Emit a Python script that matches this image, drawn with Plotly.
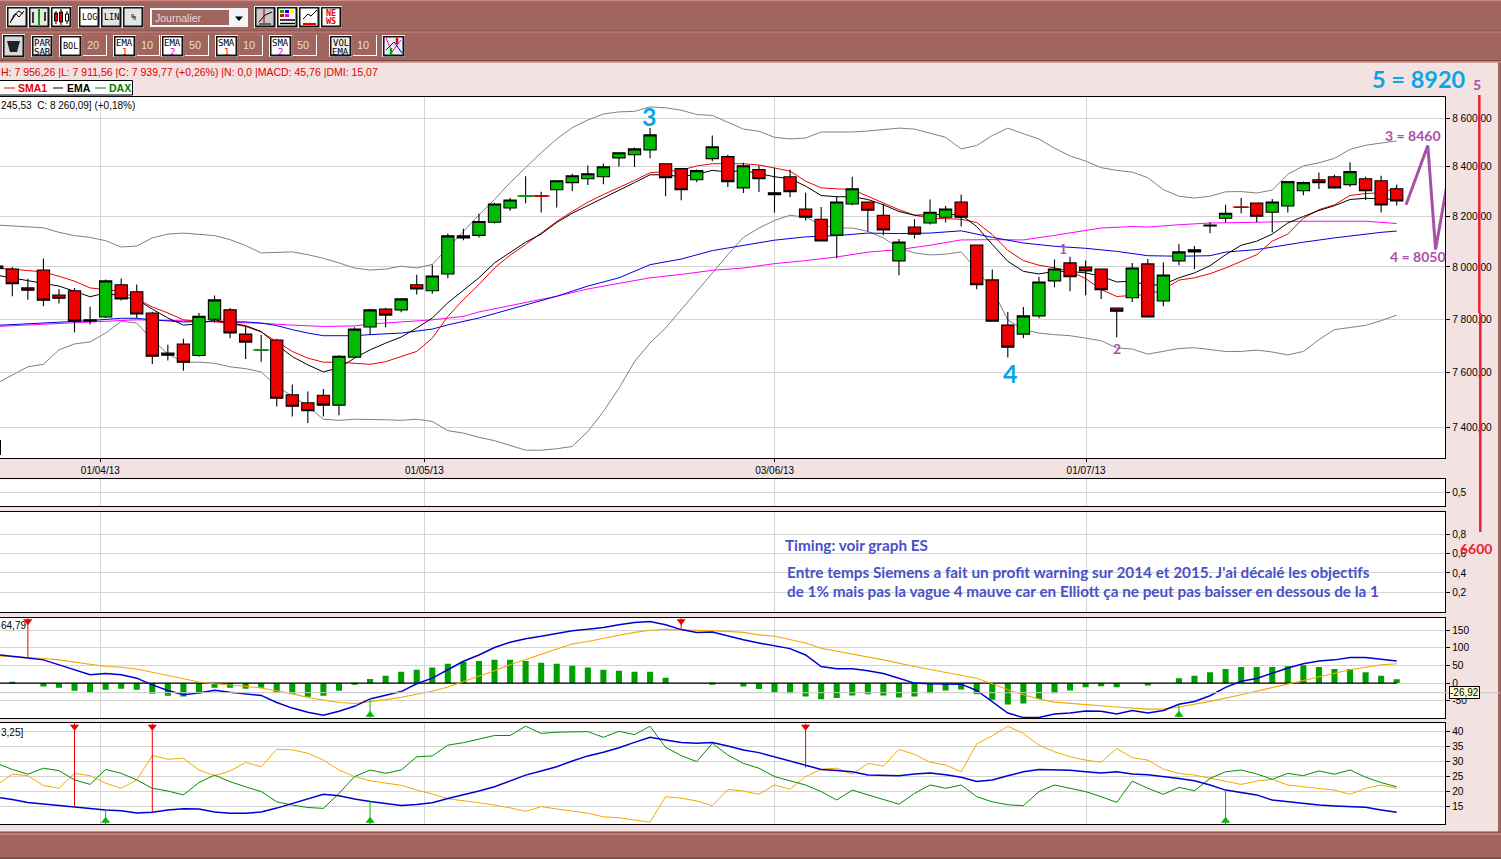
import numpy as np
import plotly.graph_objects as go
from plotly.subplots import make_subplots

W, H = 1501, 859

# candle values, index -1 is the one cut off at the left edge
candle_idx = list(range(-1, 90))
opens = [7994, 7992, 7919, 7988, 7892, 7908, 7797, 7808, 7931, 7904, 7823, 7672, 7706, 7663, 7799, 7835, 7743, 7683,
         7721, 7518, 7489, 7516, 7480, 7657, 7770, 7838, 7835, 7931, 7908, 7973, 8122, 8124, 8176, 8233, 8280, 8282,
         8306, 8335, 8351, 8359, 8436, 8449, 8469, 8412, 8392, 8347, 8433, 8441, 8314, 8388, 8294, 8359, 8229, 8188,
         8125, 8249, 8257, 8204, 8024, 8157, 8173, 8196, 8257, 8086, 7950, 7777, 7743, 7812, 7946, 8016, 8000, 7992,
         7842, 7881, 8012, 7869, 8024, 8059, 8165, 8192, 8237, 8253, 8216, 8241, 8302, 8347, 8359, 8327, 8351, 8343,
         8310]
closes = [8004, 7935, 7910, 7872, 7879, 7792, 7792, 7946, 7877, 7819, 7660, 7664, 7638, 7810, 7873, 7747, 7713, 7684,
          7505, 7476, 7460, 7480, 7660, 7762, 7835, 7815, 7877, 7915, 7965, 8122, 8114, 8179, 8249, 8265, 8282, 8280,
          8343, 8363, 8371, 8400, 8457, 8473, 8531, 8355, 8306, 8384, 8482, 8339, 8404, 8351, 8286, 8298, 8196, 8102,
          8257, 8310, 8224, 8145, 8098, 8129, 8216, 8229, 8196, 7931, 7792, 7694, 7812, 7942, 7992, 7962, 7985, 7912,
          7830, 7996, 7808, 7969, 8059, 8067, 8161, 8212, 8235, 8200, 8257, 8339, 8335, 8335, 8314, 8380, 8302, 8245,
          8261]
highs = [8008, 8000, 7954, 8033, 7915, 7919, 7847, 7951, 7955, 7932, 7828, 7703, 7726, 7823, 7890, 7842, 7772, 7741,
         7726, 7556, 7530, 7539, 7665, 7769, 7838, 7843, 7878, 7970, 8009, 8131, 8150, 8210, 8254, 8273, 8361, 8298,
         8344, 8371, 8405, 8413, 8457, 8479, 8560, 8412, 8392, 8388, 8528, 8449, 8416, 8405, 8396, 8388, 8294, 8237,
         8280, 8359, 8260, 8249, 8110, 8188, 8267, 8241, 8287, 8086, 7990, 7827, 7846, 7962, 8029, 8040, 8025, 7992,
         7842, 8016, 8031, 8017, 8090, 8082, 8176, 8246, 8273, 8253, 8269, 8339, 8340, 8376, 8367, 8418, 8359, 8363,
         8327]
lows = [7985, 7887, 7874, 7849, 7859, 7750, 7779, 7804, 7871, 7804, 7631, 7644, 7606, 7658, 7787, 7727, 7650, 7640,
        7475, 7439, 7415, 7439, 7443, 7653, 7740, 7769, 7826, 7894, 7897, 7956, 8105, 8116, 8171, 8222, 8252, 8215,
        8235, 8301, 8325, 8329, 8401, 8399, 8435, 8280, 8264, 8337, 8422, 8317, 8293, 8297, 8215, 8276, 8183, 8102,
        8034, 8244, 8139, 8124, 7968, 8112, 8167, 8175, 8159, 7914, 7791, 7655, 7727, 7803, 7922, 7906, 7891, 7876,
        7731, 7865, 7808, 7849, 8007, 7991, 8132, 8176, 8211, 8176, 8135, 8215, 8284, 8309, 8310, 8318, 8265, 8215,
        8243]
doji_idx = [16, 33, 34, 79]
doji_price = [7684, 8281, 8281, 8236]
doji_colors = ['#00BB00', '#00BB00', '#EE0000', '#EE0000']

bb_upper = [8165, 8161, 8158, 8154, 8136, 8123, 8116, 8103, 8078, 8082, 8114, 8129, 8133, 8128, 8123, 8107, 8084, 8055,
            8056, 8059, 8048, 8034, 8016, 7996, 7988, 7992, 8003, 7996, 8010, 8075, 8140, 8205, 8267, 8335, 8396, 8457,
            8514, 8561, 8593, 8618, 8627, 8629, 8648, 8644, 8634, 8616, 8612, 8584, 8555, 8546, 8521, 8514, 8518, 8543,
            8543, 8543, 8547, 8554, 8559, 8555, 8539, 8521, 8473, 8487, 8528, 8559, 8536, 8514, 8476, 8444, 8423, 8396,
            8385, 8378, 8355, 8307, 8280, 8273, 8280, 8298, 8299, 8293, 8305, 8369, 8403, 8416, 8434, 8471, 8488, 8498,
            8506]
bb_lower = [7560, 7592, 7621, 7630, 7684, 7706, 7714, 7747, 7791, 7785, 7722, 7669, 7638, 7638, 7634, 7621, 7614, 7602,
            7548, 7514, 7475, 7429, 7425, 7429, 7429, 7427, 7425, 7429, 7421, 7388, 7379, 7364, 7352, 7336, 7318, 7318,
            7323, 7331, 7385, 7457, 7542, 7640, 7710, 7766, 7836, 7906, 7979, 8048, 8116, 8153, 8183, 8204, 8196, 8166,
            8153, 8153, 8140, 8114, 8075, 8055, 8047, 8050, 8059, 7990, 7913, 7797, 7760, 7747, 7741, 7737, 7728, 7718,
            7691, 7687, 7668, 7678, 7689, 7692, 7684, 7678, 7678, 7683, 7676, 7665, 7678, 7722, 7760, 7767, 7776, 7794,
            7815]
sma1 = [7994, 7992, 7986, 7981, 7964, 7945, 7919, 7913, 7906, 7877, 7846, 7823, 7797, 7791, 7791, 7782, 7772, 7751,
        7716, 7678, 7653, 7638, 7638, 7634, 7630, 7640, 7659, 7678, 7728, 7810, 7874, 7932, 7996, 8046, 8088, 8133,
        8179, 8219, 8256, 8287, 8314, 8344, 8375, 8382, 8386, 8403, 8412, 8412, 8412, 8407, 8396, 8382, 8341, 8314,
        8310, 8307, 8280, 8253, 8226, 8204, 8192, 8190, 8188, 8175, 8127, 8065, 8025, 8007, 7997, 7983, 7955, 7913,
        7886, 7890, 7894, 7913, 7949, 7958, 7974, 7996, 8022, 8048, 8101, 8129, 8192, 8226, 8246, 8283, 8291, 8294,
        8314]
ema1 = [7968, 7958, 7947, 7936, 7926, 7906, 7885, 7900, 7887, 7874, 7838, 7804, 7777, 7782, 7797, 7787, 7775, 7753,
        7703, 7659, 7628, 7602, 7617, 7653, 7684, 7709, 7732, 7766, 7804, 7862, 7910, 7958, 8016, 8058, 8097, 8129,
        8175, 8212, 8242, 8273, 8305, 8335, 8367, 8367, 8359, 8369, 8385, 8378, 8385, 8373, 8359, 8351, 8321, 8283,
        8278, 8278, 8267, 8246, 8219, 8204, 8205, 8208, 8205, 8159, 8088, 8022, 7983, 7973, 7983, 7983, 7977, 7964,
        7942, 7945, 7929, 7932, 7958, 7977, 8005, 8048, 8085, 8101, 8129, 8173, 8199, 8223, 8242, 8267, 8272, 8269,
        8267]
ema2_idx = [-1, 1, 3, 5, 7, 8, 9, 11, 13, 15, 16, 17, 18, 19, 20, 22, 23, 25, 27, 28, 30, 32, 35, 37, 39, 41, 43, 45,
            47, 49, 51, 53, 55, 57, 59, 61, 63, 65, 67, 69, 71, 73, 75, 77, 78, 80, 83, 85, 88, 89]
ema2 = [7776, 7782, 7789, 7794, 7803, 7803, 7797, 7789, 7791, 7789, 7785, 7775, 7760, 7747, 7737, 7737, 7741, 7747,
        7762, 7778, 7804, 7836, 7887, 7926, 7958, 8009, 8031, 8064, 8085, 8105, 8118, 8123, 8133, 8131, 8133, 8142,
        8116, 8094, 8081, 8073, 8061, 8044, 8042, 8044, 8058, 8068, 8097, 8114, 8136, 8141]
sma2_idx = [-1, 3, 6, 8, 10, 12, 15, 16, 18, 20, 22, 23, 25, 27, 29, 30, 32, 35, 37, 39, 41, 43, 45, 47, 49, 51, 53,
            55, 57, 59, 61, 63, 65, 67, 69, 70, 72, 73, 75, 77, 80, 83, 87, 88, 89]
sma2 = [7772, 7782, 7792, 7797, 7795, 7792, 7787, 7784, 7777, 7772, 7774, 7781, 7789, 7797, 7810, 7827, 7851, 7887,
        7915, 7935, 7958, 7971, 7987, 7996, 8013, 8025, 8039, 8058, 8068, 8085, 8106, 8107, 8106, 8124, 8142, 8153,
        8159, 8157, 8166, 8173, 8176, 8180, 8180, 8175, 8171]

# elliott forecast drawn past the last candle
wave_idx = [89.6, 91.0, 91.5, 93.3]
wave_val = [8246, 8487, 8068, 8715]

date_pos = [5.66, 26.49, 49.01, 69.03]
date_labels = ['01/04/13', '01/05/13', '03/06/13', '01/07/13']
price_ticks = [8600, 8400, 8200, 8000, 7800, 7600, 7400]
price_labels = ['8 600,00', '8 400,00', '8 200,00', '8 000,00', '7 800,00', '7 600,00', '7 400,00']

macd_hist = [0, 4, 0, -10, -13, -22, -27, -19, -16, -19, -30, -36, -38, -27, -13, -13, -16, -13, -27, -32, -39, -36,
             -22, -5, 12, 21, 32, 38, 44, 55, 61, 63, 66, 66, 63, 58, 55, 49, 44, 38, 35, 32, 32, 15, 0, 0, -5, 0, -10,
             -17, -27, -29, -38, -46, -42, -35, -32, -35, -41, -38, -29, -21, -18, -32, -47, -61, -58, -45, -29, -21,
             -12, -9, -12, 0, -7, 0, 14, 21, 31, 40, 46, 46, 46, 48, 51, 46, 40, 40, 31, 21, 11]
macd_line = [81, 77, 71, 66, 52, 38, 24, 27, 24, 14, -5, -21, -33, -28, -20, -26, -30, -35, -55, -71, -83, -91, -80,
             -66, -45, -35, -24, -2, 14, 38, 62, 80, 101, 116, 126, 133, 142, 149, 153, 158, 166, 172, 175, 166, 152,
             144, 145, 133, 123, 114, 106, 98, 80, 47, 41, 41, 35, 27, 14, 0, -2, -2, -3, -21, -52, -85, -98, -98, -88,
             -85, -79, -80, -88, -78, -85, -78, -60, -52, -36, -12, 5, 13, 28, 43, 55, 63, 66, 73, 73, 68, 63]
macd_sig_idx = list(range(-1, 48)) + [48, 49, 50, 51, 52, 54, 56, 58, 61, 62, 63, 64, 65, 66, 67, 69, 71, 73, 74, 75,
                                      77, 79, 82, 84, 86, 88, 89]
macd_sig = [78, 76, 73, 70, 66, 59, 52, 47, 45, 40, 31, 22, 12, 3, -2, -5, -9, -14, -21, -30, -41, -49, -55, -58, -53,
            -47, -40, -31, -23, -11, 4, 19, 35, 52, 68, 82, 97, 111, 118, 128, 136, 144, 150, 153, 152, 150, 150, 147,
            144, 137, 133, 123, 114, 99, 83, 66, 47, 21, 14, -2, -19, -33, -45, -54, -62, -68, -74, -74, -68, -52, -33,
            -2, 19, 38, 52, 55]
macd_sell_idx = [1, 43]
macd_sell_val = [72, 151]
macd_buy_idx = [23, 75]
macd_buy_val = [-42, -62]

adx = [18.0, 17.3, 16.3, 15.8, 15.3, 14.7, 14.1, 13.8, 13.5, 12.8, 13.0, 13.8, 14.2, 14.1, 13.1, 12.7, 12.7, 13.1, 14.4,
       16.0, 17.6, 19.0, 18.5, 17.4, 16.6, 16.0, 15.3, 15.6, 16.2, 17.6, 18.8, 20.1, 21.5, 23.4, 25.4, 26.8, 28.2, 30.1,
       31.8, 33.0, 34.5, 36.3, 38.0, 37.1, 36.3, 36.0, 36.3, 35.1, 33.8,
       32.9, 31.5, 30.2, 28.8, 27.3, 26.9, 26.5, 25.4, 25.3, 25.2, 25.8, 26.1, 25.5, 24.7, 23.3, 23.8, 25.2, 26.5, 27.3,
       27.2, 27.0, 26.5, 26.1, 26.5, 25.8, 25.5, 25.0, 24.3, 23.5, 22.1, 20.4, 19.5, 18.8, 17.1, 16.5, 16.0, 15.4, 15.1,
       14.9, 14.7, 13.8, 13.0]
di_plus = [29.3, 27.3, 25.7, 27.7, 26.9, 23.8, 22.3, 27.3, 26.0, 23.8, 21.0, 20.1, 18.8, 22.9, 25.4, 23.2, 21.5, 19.9,
           16.5, 15.4, 14.6, 14.3, 19.3, 24.9, 27.1, 26.0, 27.1, 31.5, 31.8, 35.4, 36.2, 37.4, 38.6, 38.6, 41.7, 39.3,
           39.7, 39.8, 39.9, 38.0, 40.0, 38.9, 41.7, 34.7, 31.9, 29.9, 36.0, 32.1, 29.3,
           27.7, 24.9, 23.5, 22.1, 19.9, 17.1, 20.4, 18.8, 17.3, 15.7, 19.3, 22.1, 21.0, 22.1, 18.2, 16.5, 15.5, 15.2,
           19.9, 22.1, 21.0, 19.9, 18.2, 16.3, 23.4, 21.0, 19.0, 21.3, 20.2, 24.3, 26.5, 27.1, 25.8, 24.0, 26.0, 25.2,
           26.8, 25.7, 27.1, 24.7, 22.9, 21.5]
di_minus = [22.1, 25.7, 25.2, 21.9, 21.0, 26.0, 25.2, 22.7, 21.0, 23.8, 31.9, 30.7, 31.0, 27.1, 25.2, 26.8, 29.6, 28.2,
            34.0, 33.8, 32.7, 30.4, 27.1, 24.9, 23.5, 22.7, 22.0, 20.4, 19.1, 17.5, 16.9, 16.2, 15.4, 14.5, 13.3, 14.9,
            14.1, 13.3, 12.7, 11.5, 11.2, 10.4, 9.7, 18.2, 17.7, 16.8, 15.2, 20.6, 20.1,
            19.0, 22.1, 20.7, 24.9, 27.4, 27.7, 25.7, 29.3, 28.4, 34.0, 32.3, 29.7, 28.8, 26.5, 35.8, 38.5, 41.7, 39.3,
            35.4, 33.2, 31.5, 30.4, 29.7, 34.3, 31.2, 30.4, 27.4, 26.0, 25.4, 24.3, 23.2, 22.3, 23.4, 24.0, 22.1, 21.5,
            20.8, 20.4, 19.0, 21.0, 22.1, 21.0]
dmi_sell_idx = [4, 9, 51]
dmi_sell_val = [14.8, 13, 27.9]
dmi_buy_idx = [6, 23, 78]
dmi_buy_val = [14, 17, 20.4]

for series in (opens, closes, highs, lows, bb_upper, bb_lower, sma1, ema1, macd_hist, macd_line, adx, di_plus, di_minus):
    assert len(series) == len(candle_idx), len(series)
assert len(ema2) == len(ema2_idx) and len(sma2) == len(sma2_idx) and len(macd_sig) == len(macd_sig_idx)

# colours
BROWN = '#A0655E'
PANEL_BG = '#F2E2E2'
GRID = '#D4D4D4'
RED = '#EE0000'
GREEN = '#00BB00'
PURPLE = '#A850A8'
SKY = '#0AA5E8'
NOTE = '#4A50C8'
ORANGE = '#F5A800'
SANS = 'Liberation Sans'
MONO = 'DejaVu Sans Mono'
HAND = 'Lato'

# pixel layout of the panels (top, bottom)
panels = [(97.3, 458), (479.3, 506.3), (511.7, 612.3), (617.7, 718.3), (723.3, 824.3)]
RIGHT = 1445
K0, STEP = 12.3, 15.555
x_range = [(0 - K0) / STEP, (RIGHT - K0) / STEP]


def px(x):
    return x / W


def py(y):
    return 1 - y / H


shapes = []
notes = []


def rect(x0, y0, x1, y1, fill, line=None, width=1):
    shapes.append(dict(type='rect', xref='paper', yref='paper', x0=px(x0), x1=px(x1), y0=py(y0), y1=py(y1),
                       fillcolor=fill, line=dict(color=line or fill, width=width if line else 0)))


def seg(x0, y0, x1, y1, color='black', width=1):
    shapes.append(dict(type='line', xref='paper', yref='paper', x0=px(x0), x1=px(x1), y0=py(y0), y1=py(y1),
                       line=dict(color=color, width=width)))


def label(x, y, text, color='black', size=11, family=SANS, anchor='left', bold=False, **kw):
    if bold:
        text = '<b>%s</b>' % text
    notes.append(dict(xref='paper', yref='paper', x=px(x), y=py(y), text=text, showarrow=False, xanchor=anchor,
                      yanchor='middle', borderpad=0, font=dict(color=color, size=size, family=family), **kw))


def button(x0, x1, y0, y1, face='#FFFFFF'):
    rect(x0 - 1, y0 - 1, x1 + 1, y1 + 1, '#F4F4F4')
    rect(x0, y0, x1 + 0.5, y1 + 0.5, '#111111')
    rect(x0 + 1.5, y0 + 1.5, x1 - 1.5, y1 - 1.5, face)


def value_box(x0, x1, y0, y1, text):
    rect(x0, y0, x1, y1, '#FFFFFF')
    rect(x0, y0, x1 - 1, y1 - 1, '#808080')
    rect(x0 + 1, y0 + 1, x1 - 1, y1 - 1, BROWN)
    label(x0 + 3, (y0 + y1) / 2, text, '#E8D8D8', 11, SANS)


def two_line(x0, x1, y0, y1, top, bottom, bottom_color='black', face='#FFFFFF'):
    button(x0, x1, y0, y1, face)
    cx = (x0 + x1) / 2
    label(cx, y0 + 7, top, 'black', 9, MONO, 'center')
    label(cx, y0 + 16, bottom, bottom_color, 9, MONO, 'center')


# brown window frame
rect(0, 0, W, 62, BROWN)
rect(0, 832, W, H, BROWN)
rect(1498, 0, W, H, BROWN)
seg(0, 0.5, W, 0.5, '#D08880', 1.5)
seg(0, 31, W, 31, '#7A4A44', 1)
seg(0, 32, W, 32, '#D08880', 1)
seg(0, 60.5, W, 60.5, '#7A4A44', 1)
seg(0, 62, W, 62, '#D08880', 1.5)
seg(0, 832, W, 832, '#7A4A44', 1)
seg(0, 834, W, 834, '#D08880', 1.5)
seg(0, 858, W, 858, '#7A4A44', 1.5)

# toolbar, first row
button(7, 27, 7, 27, '#F0F0F0')
seg(10, 23, 14, 15)
seg(14, 15, 19, 11)
seg(19, 11, 23, 14)
seg(11, 21, 16, 14)
seg(16, 14, 19, 17)
seg(19, 17, 24, 11)
button(29, 49, 7, 27, '#E8E8E8')
seg(33, 12, 33, 23, 'black', 1.5)
seg(39, 9, 39, 25, '#00A000', 2)
seg(45, 12, 45, 21, 'black', 1.5)
button(51, 71, 7, 27)
seg(56, 11, 56, 24, 'black', 1)
rect(54.5, 13, 57.5, 21, '#EE0000', 'black')
seg(61, 9, 61, 25, 'black', 1)
rect(59.5, 12, 62.5, 22, '#EE0000', 'black')
seg(67, 11, 67, 24, 'black', 1)
rect(65.5, 14, 68.5, 21, 'white', 'black')
for x0, x1, text, face in [(79, 99, 'LOG', '#FFFFFF'), (101, 121, 'LIN', '#E4E4E4'), (123, 143, '%', '#E4E4E4')]:
    button(x0, x1, 7, 27, face)
    label((x0 + x1) / 2, 17.5, text, 'black', 8.5, MONO, 'center')
rect(150, 8, 248, 27, '#F4F4F4')
rect(152, 10, 229, 25, BROWN)
label(154, 18, 'Journalier', '#E8D8D8', 10.5, SANS)
shapes.append(dict(type='path', xref='paper', yref='paper', fillcolor='black', line=dict(width=0),
                   path='M %f %f L %f %f L %f %f Z' % (px(235), py(16.5), px(243), py(16.5), px(239), py(21))))
for x0 in (255, 277, 299, 321):
    button(x0, x0 + 20, 7, 27, '#C8C8C8' if x0 == 255 else '#FFFFFF')
seg(264, 9, 264, 25, '#CC0000', 1.2)
seg(259, 22, 265, 15)
seg(265, 15, 272, 12)
seg(259, 24, 271, 24, '#666666', 2)
rect(280, 10, 284, 13, '#00AA00')
rect(285, 10, 289, 13, '#0000DD')
rect(290, 10, 294, 13, '#FFFF00')
rect(285, 14, 289, 17, '#EE00EE')
rect(280, 14, 284, 17, '#EE0000')
seg(280, 20, 295, 20, 'black', 1.5)
seg(280, 23.5, 295, 23.5, 'black', 1.5)
seg(303, 19, 308, 14)
seg(308, 14, 311, 16)
seg(311, 16, 317, 10)
seg(303, 24, 316, 24, '#EE0000', 2)
label(331, 13, 'NE', '#EE0000', 8.5, MONO, 'center', bold=True)
label(331, 21, 'WS', '#EE0000', 8.5, MONO, 'center', bold=True)

# toolbar, second row
button(3, 24, 35, 57, '#D8D8D8')
shapes.append(dict(type='path', xref='paper', yref='paper', fillcolor='#222222', line=dict(width=0),
                   path='M %f %f L %f %f L %f %f L %f %f Z' % (px(7), py(41), px(20), py(41), px(17), py(52), px(10), py(52))))
two_line(32, 52, 36, 56, 'PAR', 'SAR', face='#EFEFEF')
button(60, 81, 36, 56)
label(70.5, 46.5, 'BOL', 'black', 8.5, MONO, 'center')
value_box(83, 107, 35, 56, '20')
two_line(114, 135, 36, 56, 'EMA', '1', '#EE0000')
value_box(137, 160, 35, 56, '10')
two_line(162, 183, 36, 56, 'EMA', '2', '#C000C0')
value_box(185, 209, 35, 56, '50')
two_line(216, 237, 36, 56, 'SMA', '1', '#EE0000')
value_box(239, 263, 35, 56, '10')
two_line(270, 291, 36, 56, 'SMA', '2', '#C000C0')
value_box(293, 317, 35, 56, '50')
two_line(330, 351, 36, 56, 'VOL', 'EMA', face='#EFEFEF')
value_box(353, 377, 35, 56, '10')
button(383, 404, 36, 56, '#F0F0F0')
seg(386, 38, 392, 52, '#EE00EE')
seg(392, 52, 401, 40, '#EE00EE')
seg(386, 50, 394, 42, '#0000DD')
seg(394, 42, 402, 53, '#0000DD')
seg(397, 38, 397, 44, '#EE0000', 2.5)
seg(391, 55, 391, 48, '#00AA00', 2.5)

# header texts
label(0, 72.5, 'H: 7 956,26 |L: 7 911,56 |C: 7 939,77 (+0,26%) |N: 0,0 |MACD: 45,76 |DMI: 15,07', '#E00000', 10.5)
rect(-2, 80.5, 132.5, 95, 'white', 'black', 1)
seg(4, 88, 15, 88, '#EE0000')
label(17, 88, 'SMA1', '#EE0000', 10.5, bold=True)
seg(53, 88, 63, 88, 'black')
label(66, 88, 'EMA', 'black', 10.5, bold=True)
seg(95, 88, 106, 88, '#008000')
label(108, 88, 'DAX', '#008000', 10.5, bold=True)
label(0, 105.5, '245,53  C: 8 260,09] (+0,18%)', 'black', 10)
label(0, 625, '64,79', 'black', 10)
label(0, 732, '3,25]', 'black', 10)

# hand written notes on top of the screenshot
label(1371, 79, '5 = 8920', SKY, 23.5, HAND, bold=True)
label(649, 116, '3', SKY, 25, HAND, 'center', bold=True)
label(1011, 373, '4', SKY, 25, HAND, 'center', bold=True)
label(1384, 136, '3 = 8460', PURPLE, 14, HAND, bold=True)
label(1389, 256, '4 = 8050', PURPLE, 14, HAND, bold=True)
label(1477, 84, '5', PURPLE, 14, HAND, 'center', bold=True)
label(1063, 248, '1', PURPLE, 14, HAND, 'center', bold=True)
label(1117, 348, '2', PURPLE, 14, HAND, 'center', bold=True)
label(1459, 548, '6600', '#EE2030', 14, HAND, bold=True)
label(784, 545, 'Timing: voir graph ES', NOTE, 15.3, HAND, bold=True)
label(786, 572, "Entre temps Siemens a fait un profit warning sur 2014 et 2015. J'ai décalé les objectifs", NOTE, 15.3, HAND,
      bold=True)
label(786, 591, 'de 1% mais pas la vague 4 mauve car en Elliott ça ne peut pas baisser en dessous de la 1', NOTE, 15.3, HAND,
      bold=True)

# red hand drawn line and crosshair
seg(1479.3, 95, 1479.3, 313, '#EE2030', 2.5)
seg(1480.3, 313, 1480.3, 532, '#EE2030', 2.5)
seg(0, 692.7, 1500, 692.7, '#C8C8C8', 1)
rect(0, 440, 1, 455, 'black')
label(1464.5, 692.5, '-26,92', 'black', 10, SANS, 'center', bgcolor='#FFFFD0', bordercolor='black', borderwidth=1)

fig = make_subplots(rows=5, cols=1)

y_top = np.log10(8600) + 21.0 / 4734
y_bot = np.log10(8600) - 339.7 / 4734

for values, idx, color in [(bb_upper, candle_idx, '#808080'), (bb_lower, candle_idx, '#808080'),
                           (sma2, sma2_idx, '#FF00FF'), (ema2, ema2_idx, '#0000E0'),
                           (sma1, candle_idx, '#EE0000'), (ema1, candle_idx, 'black')]:
    fig.add_trace(go.Scatter(x=idx, y=values, mode='lines', line=dict(color=color, width=1),
                             showlegend=False), row=1, col=1)
fig.add_trace(go.Scatter(x=wave_idx, y=wave_val, mode='lines', showlegend=False, cliponaxis=False,
                         line=dict(color=PURPLE, width=3)), row=1, col=1)

# candles sit on an overlay axis so they cover the indicator lines
fig.add_trace(go.Candlestick(x=candle_idx, open=opens, high=highs, low=lows, close=closes,
                             xaxis='x6', yaxis='y6', whiskerwidth=0, showlegend=False,
                             increasing=dict(fillcolor=GREEN, line=dict(color='black', width=1.1)),
                             decreasing=dict(fillcolor=RED, line=dict(color='black', width=1.1))))
fig.add_trace(go.Scatter(x=doji_idx, y=doji_price, mode='markers', xaxis='x6', yaxis='y6', showlegend=False,
                         marker=dict(symbol='line-ew', size=12, line=dict(color=doji_colors, width=1.3))))

# the two empty indicator panels still need a trace to show their axes
for row in (2, 3):
    fig.add_trace(go.Scatter(x=[None], y=[None], mode='lines', showlegend=False), row=row, col=1)

# macd panel
fig.add_trace(go.Bar(x=candle_idx, y=macd_hist, width=0.39, marker=dict(color='#00A000', line=dict(width=0)),
                     showlegend=False), row=4, col=1)
fig.add_trace(go.Scatter(x=[candle_idx[0], candle_idx[-1]], y=[0, 0], mode='lines',
                         line=dict(color='black', width=1.2), showlegend=False), row=4, col=1)
fig.add_trace(go.Scatter(x=macd_sig_idx, y=macd_sig, mode='lines', line=dict(color=ORANGE, width=1.1),
                         showlegend=False), row=4, col=1)
fig.add_trace(go.Scatter(x=candle_idx, y=macd_line, mode='lines', line=dict(color='#0000D0', width=1.5),
                         showlegend=False), row=4, col=1)

# dmi panel
fig.add_trace(go.Scatter(x=candle_idx, y=di_minus, mode='lines', line=dict(color=ORANGE, width=1),
                         showlegend=False), row=5, col=1)
fig.add_trace(go.Scatter(x=candle_idx, y=di_plus, mode='lines', line=dict(color='#009000', width=1),
                         showlegend=False), row=5, col=1)
fig.add_trace(go.Scatter(x=candle_idx, y=adx, mode='lines', line=dict(color='#0000D0', width=1.5),
                         showlegend=False), row=5, col=1)


def add_signals(idx, values, edge, tip, symbol, color, row):
    for k, v in zip(idx, values):
        fig.add_trace(go.Scatter(x=[k, k], y=[edge, v], mode='lines', line=dict(color=color, width=1),
                                 showlegend=False), row=row, col=1)
    fig.add_trace(go.Scatter(x=idx, y=[tip] * len(idx), mode='markers', showlegend=False,
                             marker=dict(symbol=symbol, size=8, color=color)), row=row, col=1)


macd_range = [-100, 185.8]
dmi_range = [9, 42.67]
add_signals(macd_sell_idx, macd_sell_val, macd_range[1], 176, 'triangle-down', '#EE0000', 4)
add_signals(macd_buy_idx, macd_buy_val, macd_range[0], -90, 'triangle-up', '#00BB00', 4)
add_signals(dmi_sell_idx, dmi_sell_val, dmi_range[1], 41.5, 'triangle-down', '#EE0000', 5)
add_signals(dmi_buy_idx, dmi_buy_val, dmi_range[0], 10.2, 'triangle-up', '#00BB00', 5)

y_setup = [
    dict(type='log', range=[y_bot, y_top], tickvals=price_ticks, ticktext=price_labels),
    dict(range=[0, 1], tickvals=[0.5], ticktext=['0,5']),
    dict(range=[-0.007, 1.034], tickvals=[0.8, 0.6, 0.4, 0.2], ticktext=['0,8', '0,6', '0,4', '0,2']),
    dict(range=macd_range, tickvals=[150, 100, 50, 0, -50], ticktext=['150', '100', '50', '0', '-50']),
    dict(range=dmi_range, tickvals=[40, 35, 30, 25, 20, 15], ticktext=['40', '35', '30', '25', '20', '15']),
]
for row, ((top, bottom), setup) in enumerate(zip(panels, y_setup), start=1):
    domain = [1 - bottom / H, 1 - top / H]
    fig.update_yaxes(domain=domain, side='right', showgrid=True, gridcolor=GRID, gridwidth=1, zeroline=False,
                     showline=True, linecolor='black', linewidth=1.2, ticks='outside', ticklen=4, tickcolor='black',
                     tickfont=dict(family=SANS, size=10.2, color='black'), row=row, col=1, **setup)
    fig.update_xaxes(domain=[0, RIGHT / W], range=x_range, tickmode='array', tickvals=date_pos,
                     ticktext=date_labels if row == 1 else [''] * 4, showgrid=True, gridcolor=GRID, gridwidth=1,
                     zeroline=False, showline=True, mirror=True, linecolor='black', linewidth=1.2,
                     ticks='outside' if row == 1 else '', ticklen=3, tickcolor='black',
                     tickfont=dict(family=SANS, size=10, color='black'), row=row, col=1)

main_domain = [1 - panels[0][1] / H, 1 - panels[0][0] / H]
fig.update_layout(
    width=W, height=H, margin=dict(l=0, r=0, t=0, b=0, pad=0),
    paper_bgcolor=PANEL_BG, plot_bgcolor='white', boxgap=0.17, boxgroupgap=0.05, bargap=0.6, showlegend=False,
    xaxis6=dict(overlaying='x', anchor='y6', domain=[0, RIGHT / W], range=x_range, visible=False,
                rangeslider=dict(visible=False)),
    yaxis6=dict(overlaying='y', anchor='x6', domain=main_domain, type='log', range=[y_bot, y_top], visible=False),
    shapes=shapes, annotations=notes,
)

fig.write_html('out.html', config=dict(displayModeBar=False),
               post_script="document.body.style.margin='0';document.documentElement.style.overflow='hidden';")
